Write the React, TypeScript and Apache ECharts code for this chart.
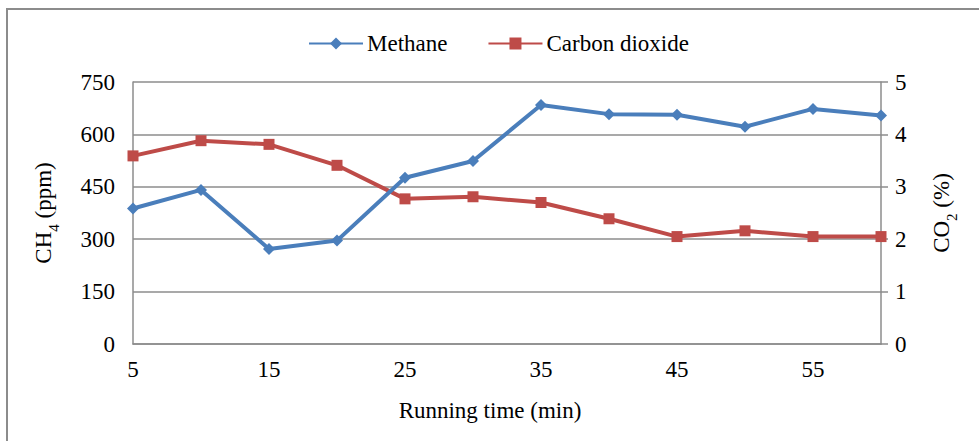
import React, { useEffect, useRef } from "react";
import * as echarts from "echarts";

const runningTime = ["5", "10", "15", "20", "25", "30", "35", "40", "45", "50", "55", "60"];
const methane = [388, 441, 272, 296, 476, 524, 684, 658, 656, 622, 673, 654];
const carbonDioxide = [3.59, 3.88, 3.81, 3.41, 2.77, 2.81, 2.7, 2.39, 2.05, 2.16, 2.05, 2.05];
const ch4Ticks = { min: 0, max: 750, interval: 150 };
const co2Ticks = { min: 0, max: 5, interval: 1 };

const FONT = "Liberation Serif";
const GRAY = "#8c8c8c";

export default function App() {
  const ref = useRef<HTMLDivElement>(null);
  useEffect(() => {
    if (!ref.current) return;
    const chart = echarts.init(ref.current, undefined, { renderer: "svg" });
    const txt = { fontFamily: FONT, fontSize: 23, color: "#000" };
    const sub = { fontFamily: FONT, fontSize: 15, color: "#000", lineHeight: 36, verticalAlign: "bottom" };
    chart.setOption({
      animation: false,
      backgroundColor: "#ffffff",
      textStyle: { fontFamily: FONT, color: "#000" },
      graphic: [
        {
          type: "rect",
          shape: { x: 7, y: 9, width: 1000, height: 460 },
          style: { fill: "none", stroke: GRAY, lineWidth: 2 },
          silent: true,
        },
      ],
      legend: {
        left: 303,
        top: 27,
        itemWidth: 54,
        itemHeight: 15,
        itemGap: 40,
        textStyle: { ...txt, padding: [0, 0, 0, -1] },
        data: ["Methane", "Carbon dioxide"],
      },
      grid: { left: 133, right: 98, top: 82, bottom: 97, containLabel: false },
      xAxis: {
        type: "category",
        data: runningTime,
        boundaryGap: false,
        name: "Running time (min)",
        nameLocation: "middle",
        nameGap: 55,
        nameTextStyle: { ...txt, padding: [0, 34, 0, 0] },
        axisLine: { show: true, lineStyle: { color: GRAY, width: 1.5 } },
        axisTick: { show: false },
        axisLabel: { ...txt, interval: 1, margin: 14 },
        splitLine: { show: false },
      },
      yAxis: [
        {
          type: "value",
          min: ch4Ticks.min,
          max: ch4Ticks.max,
          interval: ch4Ticks.interval,
          position: "left",
          name: "CH{sub|4} (ppm)",
          nameLocation: "middle",
          nameGap: 72,
          nameTextStyle: { ...txt, rich: { sub } },
          axisLine: { show: true, lineStyle: { color: GRAY, width: 1.5 } },
          axisTick: { show: false },
          axisLabel: { ...txt, margin: 18 },
          splitLine: { show: true, lineStyle: { color: GRAY, width: 1.5 } },
        },
        {
          type: "value",
          min: co2Ticks.min,
          max: co2Ticks.max,
          interval: co2Ticks.interval,
          position: "right",
          name: "CO{sub|2} (%)",
          nameLocation: "middle",
          nameGap: 42,
          nameTextStyle: { ...txt, rich: { sub } },
          axisLine: { show: true, lineStyle: { color: GRAY, width: 1.5 } },
          axisTick: { show: true, length: 7, lineStyle: { color: GRAY, width: 1.5 } },
          axisLabel: { ...txt, margin: 14 },
          splitLine: { show: false },
        },
      ],
      series: [
        {
          name: "Methane",
          type: "line",
          yAxisIndex: 0,
          data: methane,
          symbol: "diamond",
          symbolSize: 12,
          itemStyle: { color: "#4a7ebb" },
          lineStyle: { color: "#4a7ebb", width: 4 },
          z: 3,
        },
        {
          name: "Carbon dioxide",
          type: "line",
          yAxisIndex: 1,
          data: carbonDioxide,
          symbol: "rect",
          symbolSize: 11,
          itemStyle: { color: "#be4b48" },
          lineStyle: { color: "#be4b48", width: 4 },
          z: 2,
        },
      ],
    });
    return () => chart.dispose();
  }, []);
  return (
    <div
      ref={ref}
      style={{ position: "fixed", left: 0, top: 0, width: 979, height: 441 }}
    />
  );
}
